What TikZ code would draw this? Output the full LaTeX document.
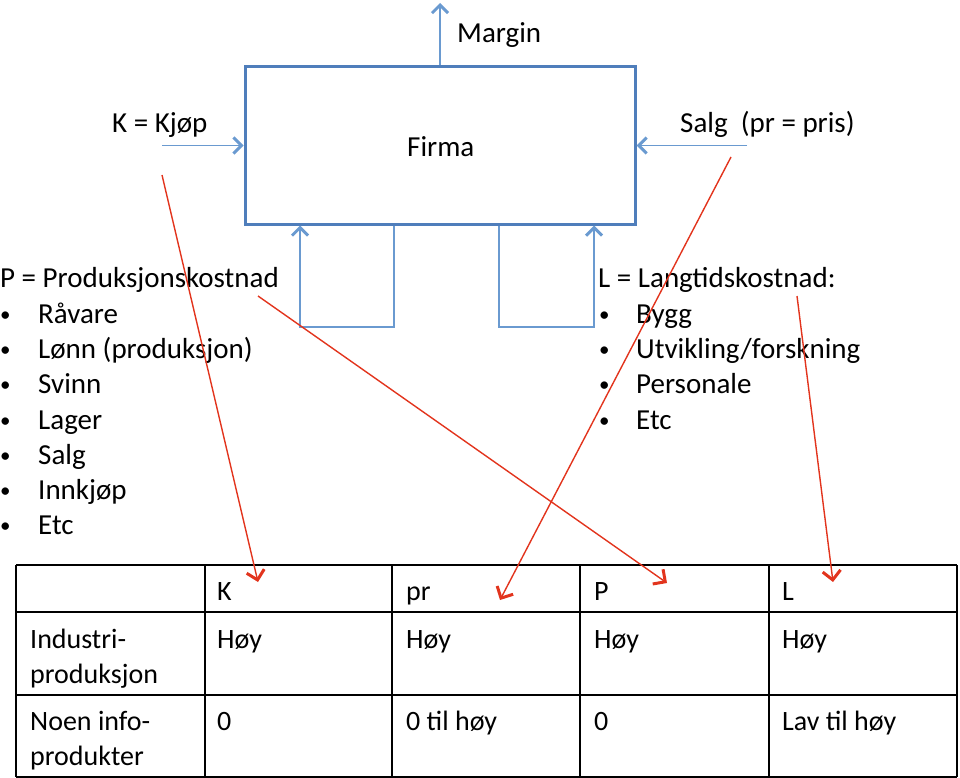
\documentclass[tikz,border=0pt]{standalone}
\usepackage{fontspec}
\setmainfont{Carlito}
\usepackage{tikz}
\usetikzlibrary{arrows.meta}
\definecolor{boxblue}{HTML}{4F7EBB}
\definecolor{lineblue}{HTML}{6A9AD0}
\definecolor{linkred}{HTML}{E2341D}

\begin{document}
\begin{tikzpicture}[x=1pt,y=-1pt]
\tikzstyle{every node}+=[inner sep=0pt, font=\fontsize{29}{35}\selectfont]
\tikzstyle{txt}=[anchor=base west]
\tikzstyle{dot}=[anchor=base west, font=\fontsize{21}{25}\selectfont]
\tikzstyle{cell}=[anchor=base west, font=\fontsize{28}{34}\selectfont]
\tikzstyle{flow}=[draw=lineblue, line width=1.5pt, -{Straight Barb[length=8pt,width=16pt,line width=3pt]}]
\tikzstyle{link}=[draw=linkred, line width=1.4pt, -{Straight Barb[length=9pt,width=18pt,line width=3pt]}]
\useasboundingbox (0,0) rectangle (960,778);

% firma
\node [draw=boxblue, line width=3pt, minimum width=390pt, minimum height=157pt] (firma) at (440,145.5) {};
\node [txt] (firmatxt) at (407,157) {Firma};
\node [txt] (margin) at (457,43) {Margin};
\node [txt] (kjop) at (112,133) {K = Kjøp};
\node [txt] (salg) at (680,133) {Salg\ \ (pr = pris)};

\coordinate (top) at (440,3);
\coordinate (kin) at (162,145.5);
\coordinate (sin) at (747,145.5);
\draw [flow] (firma.north) -- (top);
\draw [flow] (kin) -- (firma.west);
\draw [flow] (sin) -- (firma.east);

% loops under the box
\coordinate (loopL) at (300,327);
\coordinate (loopR) at (594,327);
\draw [flow] ([xshift=-46pt]firma.south) |- (loopL) -- ([xshift=-140pt]firma.south);
\draw [flow] ([xshift=59pt]firma.south) |- (loopR) -- ([xshift=154pt]firma.south);

% P list
\node [txt] (phead) at (0,287) {P = Produksjonskostnad};
\foreach \y/\t [count=\i] in {323/Råvare,358/Lønn (produksjon),393/Svinn,429/Lager,464/Salg,499/Innkjøp,534/Etc}{
  \node [dot] (pb\i) at (0,\y-2) {•};
  \node [txt] (p\i) at (38,\y) {\t};
}

% L list
\node [txt] (lhead) at (598,287) {L = Langtidskostnad:};
\foreach \y/\t [count=\i] in {323/Bygg,358/{Utvikling/forskning},393/Personale,429/Etc}{
  \node [dot] (lb\i) at (599,\y-2) {•};
  \node [txt] (l\i) at (636,\y) {\t};
}

% table
\foreach \y in {565,612,695,777}
  \draw [line width=1.8pt] (16,\y) -- (957,\y);
\foreach \x in {16,205,392,580,769,957}
  \draw [line width=1.8pt] (\x,565) -- (\x,777);
\node [cell] (hK) at (217,600) {K};
\node [cell] (hpr) at (406,600) {pr};
\node [cell] (hP) at (594,600) {P};
\node [cell] (hL) at (782,600) {L};
\node [cell] (r1a) at (30,648) {Industri-};
\node [cell] (r1b) at (30,683) {produksjon};
\node [cell] (r1K) at (217,648) {Høy};
\node [cell] (r1pr) at (406,648) {Høy};
\node [cell] (r1P) at (594,648) {Høy};
\node [cell] (r1L) at (782,648) {Høy};
\node [cell] (r2a) at (30,730) {Noen info-};
\node [cell] (r2b) at (30,765) {produkter};
\node [cell] (r2K) at (217,730) {0};
\node [cell] (r2pr) at (406,730) {0 til høy};
\node [cell] (r2P) at (594,730) {0};
\node [cell] (r2L) at (782,730) {Lav til høy};

% red links
\coordinate (kfrom) at (162,175);
\coordinate (kto) at (258,582);
\coordinate (sfrom) at (731,157);
\coordinate (sto) at (500,600);
\coordinate (pfrom) at (258,296);
\coordinate (pto) at (667,583);
\coordinate (lfrom) at (797,296);
\coordinate (lto) at (833,582);
\draw [link] (kfrom) -- (kto);
\draw [link] (sfrom) -- (sto);
\draw [link] (pfrom) -- (pto);
\draw [link] (lfrom) -- (lto);
\end{tikzpicture}
\end{document}
